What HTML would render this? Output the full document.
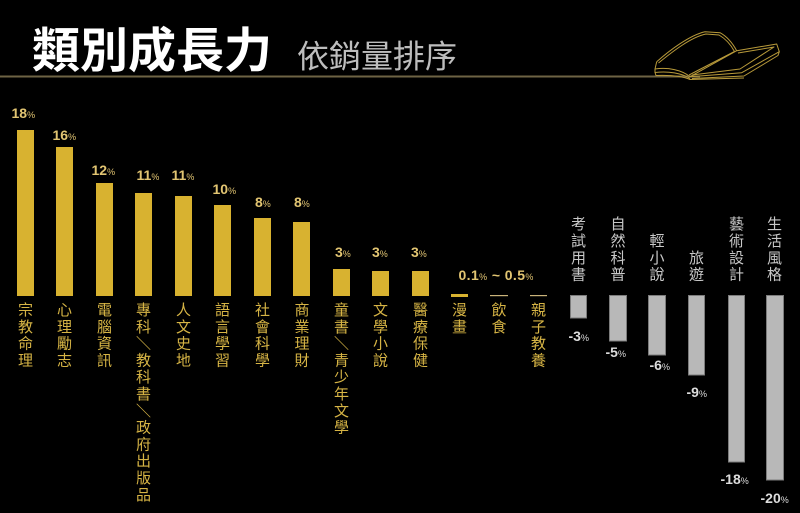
<!DOCTYPE html>
<html><head><meta charset="utf-8"><style>
html,body{margin:0;padding:0;background:#000;}
svg{display:block;}
.t{font-family:"Liberation Sans","Noto Sans CJK TC",sans-serif;}
.c{font-family:"Liberation Sans","Noto Sans CJK TC",sans-serif;font-size:15px;}
.p{font-family:"Liberation Sans",sans-serif;font-weight:bold;font-size:14px;}
.s{font-size:9px;font-weight:normal;}
</style></head><body>
<svg width="800" height="513" viewBox="0 0 800 513" xmlns="http://www.w3.org/2000/svg">
<rect width="800" height="513" fill="#000"/>
<!-- title -->
<text class="t" x="32" y="67" font-size="48" font-weight="bold" fill="#fff">類別成長力</text>
<text class="t" x="297" y="67.5" font-size="32" fill="#bdbdbd">依銷量排序</text>
<rect x="0" y="75.5" width="700" height="2" fill="#6e6344"/>
<!-- book -->
<g transform="translate(640,20)" fill="none" stroke="#b89a3a" stroke-width="1" stroke-linejoin="round">
<path d="M16.7,41.7 C30,30 50,15 65,11.7 L80,12.7 C88,17 93,24 96.7,30.7"/>
<path d="M18.5,43 C32,32 51,17 66,14 L79,15 C86,19 91,25 94.5,31.5"/>
<path d="M96.7,30.7 L50,56.7"/>
<path d="M94.5,31.5 L49,55"/>
<path d="M96.7,30.7 L136.7,24 L139.3,31.7 L101.7,52.7 L50,56.7"/>
<path d="M98,33 L134,27 L100,49 L52,55"/>
<path d="M139.3,31.7 L138,35.5 L104,56 L52,58.5"/>
<path d="M16.7,41.7 L15,49 C28,47 42,50 50,56.7"/>
<path d="M15,49 L15,52.5 C28,51 42,53 50,58.5"/>
<path d="M15,52.5 L16,55.5 C30,55 42,56 50,59.5 L104,58"/>
</g>
<!-- gold bars -->
<g fill="#d8b230">
<rect x="17" y="130" width="17" height="166"/>
<rect x="56" y="147" width="17" height="149"/>
<rect x="96" y="183" width="17" height="113"/>
<rect x="135" y="193" width="17" height="103"/>
<rect x="175" y="196" width="17" height="100"/>
<rect x="214" y="205" width="17" height="91"/>
<rect x="254" y="218" width="17" height="78"/>
<rect x="293" y="222" width="17" height="74"/>
<rect x="333" y="269" width="17" height="27"/>
<rect x="372" y="271" width="17" height="25"/>
<rect x="412" y="271" width="17" height="25"/>
<rect x="451" y="294" width="17" height="3"/>
</g>
<rect x="490" y="295" width="18" height="1.2" fill="#c9b27a"/>
<rect x="530" y="295" width="17" height="1.2" fill="#c9b27a"/>
<!-- gray bars -->
<g fill="#b8b8b8" stroke="#7c7c7c" stroke-width="1">
<rect x="570.5" y="295.5" width="16" height="22.5"/>
<rect x="609.5" y="295.5" width="17" height="45.5"/>
<rect x="648.5" y="295.5" width="17" height="59.5"/>
<rect x="688.5" y="295.5" width="16" height="79.5"/>
<rect x="728.5" y="295.5" width="16" height="166.5"/>
<rect x="766.5" y="295.5" width="17" height="184.5"/>
</g>
<!-- percent labels -->
<g class="p" fill="#e2c572">
<text x="11.5" y="118">18<tspan class="s">%</tspan></text>
<text x="52.5" y="140">16<tspan class="s">%</tspan></text>
<text x="91.5" y="175">12<tspan class="s">%</tspan></text>
<text x="136.5" y="180">11<tspan class="s">%</tspan></text>
<text x="171.5" y="180">11<tspan class="s">%</tspan></text>
<text x="212.5" y="194">10<tspan class="s">%</tspan></text>
<text x="255" y="207">8<tspan class="s">%</tspan></text>
<text x="294" y="207">8<tspan class="s">%</tspan></text>
<text x="335" y="257">3<tspan class="s">%</tspan></text>
<text x="372" y="257">3<tspan class="s">%</tspan></text>
<text x="411" y="257">3<tspan class="s">%</tspan></text>
<text x="458.5" y="280" letter-spacing="0.4">0.1<tspan class="s">%</tspan> ~ 0.5<tspan class="s">%</tspan></text>
</g>
<g class="p" fill="#dcdcdc">
<text x="568.5" y="341">-3<tspan class="s">%</tspan></text>
<text x="605.5" y="357">-5<tspan class="s">%</tspan></text>
<text x="649.5" y="370">-6<tspan class="s">%</tspan></text>
<text x="686.5" y="397">-9<tspan class="s">%</tspan></text>
<text x="720.5" y="484">-18<tspan class="s">%</tspan></text>
<text x="760.5" y="503">-20<tspan class="s">%</tspan></text>
</g>
<!-- gold vertical labels -->
<g class="c" fill="#d6b445" text-anchor="middle">
<text y="315"><tspan x="25.5">宗</tspan><tspan x="25.5" dy="16.8">教</tspan><tspan x="25.5" dy="16.8">命</tspan><tspan x="25.5" dy="16.8">理</tspan></text>
<text y="315"><tspan x="64.5">心</tspan><tspan x="64.5" dy="16.8">理</tspan><tspan x="64.5" dy="16.8">勵</tspan><tspan x="64.5" dy="16.8">志</tspan></text>
<text y="315"><tspan x="104.5">電</tspan><tspan x="104.5" dy="16.8">腦</tspan><tspan x="104.5" dy="16.8">資</tspan><tspan x="104.5" dy="16.8">訊</tspan></text>
<text y="315"><tspan x="143.5">專</tspan><tspan x="143.5" dy="16.8">科</tspan><tspan x="143.5" dy="16.8">＼</tspan><tspan x="143.5" dy="16.8">教</tspan><tspan x="143.5" dy="16.8">科</tspan><tspan x="143.5" dy="16.8">書</tspan><tspan x="143.5" dy="16.8">＼</tspan><tspan x="143.5" dy="16.8">政</tspan><tspan x="143.5" dy="16.8">府</tspan><tspan x="143.5" dy="16.8">出</tspan><tspan x="143.5" dy="16.8">版</tspan><tspan x="143.5" dy="16.8">品</tspan></text>
<text y="315"><tspan x="183.5">人</tspan><tspan x="183.5" dy="16.8">文</tspan><tspan x="183.5" dy="16.8">史</tspan><tspan x="183.5" dy="16.8">地</tspan></text>
<text y="315"><tspan x="222.5">語</tspan><tspan x="222.5" dy="16.8">言</tspan><tspan x="222.5" dy="16.8">學</tspan><tspan x="222.5" dy="16.8">習</tspan></text>
<text y="315"><tspan x="262.5">社</tspan><tspan x="262.5" dy="16.8">會</tspan><tspan x="262.5" dy="16.8">科</tspan><tspan x="262.5" dy="16.8">學</tspan></text>
<text y="315"><tspan x="302">商</tspan><tspan x="302" dy="16.8">業</tspan><tspan x="302" dy="16.8">理</tspan><tspan x="302" dy="16.8">財</tspan></text>
<text y="315"><tspan x="341.5">童</tspan><tspan x="341.5" dy="16.8">書</tspan><tspan x="341.5" dy="16.8">＼</tspan><tspan x="341.5" dy="16.8">青</tspan><tspan x="341.5" dy="16.8">少</tspan><tspan x="341.5" dy="16.8">年</tspan><tspan x="341.5" dy="16.8">文</tspan><tspan x="341.5" dy="16.8">學</tspan></text>
<text y="315"><tspan x="380.5">文</tspan><tspan x="380.5" dy="16.8">學</tspan><tspan x="380.5" dy="16.8">小</tspan><tspan x="380.5" dy="16.8">說</tspan></text>
<text y="315"><tspan x="420.5">醫</tspan><tspan x="420.5" dy="16.8">療</tspan><tspan x="420.5" dy="16.8">保</tspan><tspan x="420.5" dy="16.8">健</tspan></text>
<text y="315"><tspan x="459.5">漫</tspan><tspan x="459.5" dy="16.8">畫</tspan></text>
<text y="315"><tspan x="499">飲</tspan><tspan x="499" dy="16.8">食</tspan></text>
<text y="315"><tspan x="538.5">親</tspan><tspan x="538.5" dy="16.8">子</tspan><tspan x="538.5" dy="16.8">教</tspan><tspan x="538.5" dy="16.8">養</tspan></text>
</g>
<!-- gray vertical labels -->
<g class="c" fill="#c8c8c8" text-anchor="middle">
<text y="229.2"><tspan x="578.5">考</tspan><tspan x="578.5" dy="16.8">試</tspan><tspan x="578.5" dy="16.8">用</tspan><tspan x="578.5" dy="16.8">書</tspan></text>
<text y="229.2"><tspan x="618">自</tspan><tspan x="618" dy="16.8">然</tspan><tspan x="618" dy="16.8">科</tspan><tspan x="618" dy="16.8">普</tspan></text>
<text y="246"><tspan x="657">輕</tspan><tspan x="657" dy="16.8">小</tspan><tspan x="657" dy="16.8">說</tspan></text>
<text y="262.8"><tspan x="696.5">旅</tspan><tspan x="696.5" dy="16.8">遊</tspan></text>
<text y="229.2"><tspan x="736.5">藝</tspan><tspan x="736.5" dy="16.8">術</tspan><tspan x="736.5" dy="16.8">設</tspan><tspan x="736.5" dy="16.8">計</tspan></text>
<text y="229.2"><tspan x="774.5">生</tspan><tspan x="774.5" dy="16.8">活</tspan><tspan x="774.5" dy="16.8">風</tspan><tspan x="774.5" dy="16.8">格</tspan></text>
</g>
</svg>
</body></html>
